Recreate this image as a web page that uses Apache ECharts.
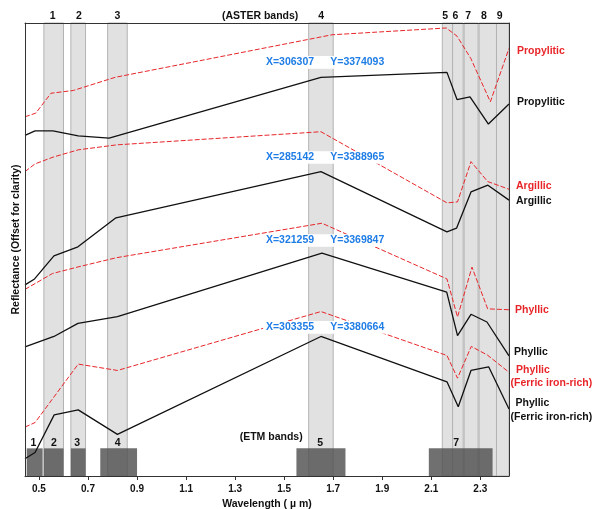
<!DOCTYPE html>
<html>
<head>
<meta charset="utf-8">
<script src="https://cdn.jsdelivr.net/npm/echarts@6/dist/echarts.min.js"></script>
<style>
html,body{margin:0;padding:0;background:#fff;}
#main{width:602px;height:509px;}
</style>
</head>
<body>
<div id="main"></div>
<script>
// ---- data ----
const xTicks = [0.5, 0.7, 0.9, 1.1, 1.3, 1.5, 1.7, 1.9, 2.1, 2.3];
const xMin = 0.443, xMax = 2.417;

const asterBands = [[0.52,0.60],[0.63,0.69],[0.78,0.86],[1.60,1.70],[2.145,2.187],[2.187,2.23],[2.234,2.291],[2.295,2.366],[2.366,2.43]];
const asterLabels = ['1','2','3','4','5','6','7','8','9'];
const asterLabelX = [0.556,0.663,0.820,1.651,2.157,2.198,2.250,2.315,2.379];

const etmBands = [[0.45,0.515],[0.52,0.60],[0.63,0.69],[0.75,0.90],[1.55,1.75],[2.09,2.35]];
const etmLabels = ['1','2','3','4','5','7'];
const etmLabelX = [0.477,0.561,0.656,0.821,1.647,2.202];
const etmTop = 6.1;

const redPropylitic   = [[0.443,79.3],[0.487,80.1],[0.549,84.5],[0.640,85.1],[0.810,88.0],[1.695,97.4],[2.161,98.9],[2.205,97.1],[2.261,92.2],[2.341,82.6],[2.417,94.4]];
const blackPropylitic = [[0.443,75.2],[0.484,76.2],[0.557,76.2],[0.660,75.1],[0.786,74.6],[1.650,88.0],[2.164,89.1],[2.205,83.1],[2.258,83.7],[2.333,77.7],[2.417,82.1]];
const redArgillic     = [[0.443,67.2],[0.484,68.9],[0.558,70.4],[0.660,72.0],[0.817,73.1],[1.650,76.0],[2.164,60.3],[2.207,60.5],[2.262,69.4],[2.330,65.0],[2.417,63.3]];
const blackArgillic   = [[0.443,42.2],[0.482,43.5],[0.561,48.6],[0.659,50.6],[0.814,57.0],[1.650,67.2],[2.164,53.9],[2.203,54.7],[2.262,62.7],[2.331,64.2],[2.417,60.9]];
const redPhyllic      = [[0.443,41.2],[0.555,44.7],[0.663,46.2],[0.817,48.2],[1.654,55.8],[2.164,43.5],[2.207,35.1],[2.266,46.1],[2.330,36.9],[2.417,36.7]];
const blackPhyllic    = [[0.443,28.5],[0.561,30.8],[0.659,33.7],[0.820,35.2],[1.654,49.2],[2.163,40.6],[2.207,31.0],[2.262,35.7],[2.327,34.0],[2.417,26.5]];
const redFerric       = [[0.443,10.8],[0.484,11.8],[0.660,24.7],[0.820,23.3],[1.650,36.3],[2.164,26.6],[2.207,21.6],[2.263,28.6],[2.329,26.7],[2.417,22.9]];
const blackFerric     = [[0.443,3.8],[0.484,5.2],[0.562,13.5],[0.660,14.6],[0.820,9.2],[1.650,30.8],[2.164,20.8],[2.210,15.3],[2.262,23.3],[2.334,24.1],[2.417,14.8]];

const readoutX = ['X=306307','X=285142','X=321259','X=303355'];
const readoutY = ['Y=3374093','Y=3388965','Y=3369847','Y=3380664'];
const readoutLevels = [91.3, 70.3, 52.0, 32.8];

const rightLabels = [
  {t:'Propylitic', c:'red', x:517, y:50.7},
  {t:'Propylitic', c:'black', x:517, y:102.3},
  {t:'Argillic', c:'red', x:516, y:185.7},
  {t:'Argillic', c:'black', x:516, y:201},
  {t:'Phyllic', c:'red', x:515, y:310},
  {t:'Phyllic', c:'black', x:514, y:352.3},
  {t:'Phyllic', c:'red', x:516, y:370},
  {t:'(Ferric iron-rich)', c:'red', x:510.5, y:382.7},
  {t:'Phyllic', c:'black', x:515.5, y:403.3},
  {t:'(Ferric iron-rich)', c:'black', x:510.5, y:417.3}
];

// ---- styling ----
const RED = '#e8262a', BLACK = '#111111', BLUE = '#1f7de6';
const FONT = '"Liberation Sans", Arial, sans-serif';
const F = 'bold 10.5px ' + FONT;

const chart = echarts.init(document.getElementById('main'));

function redSeries(name, data){
  return {name, type:'line', data, symbol:'none', z:4, animation:false,
    lineStyle:{color:RED, width:1, type:[5,2]}};
}
function blackSeries(name, data){
  return {name, type:'line', data, symbol:'none', z:5, animation:false,
    lineStyle:{color:BLACK, width:1.3}};
}

const option = {
  animation:false,
  backgroundColor:'#fff',
  grid:{left:25, right:93, top:23, bottom:33, containLabel:false, outerBoundsMode:'none'},
  xAxis:[{
    type:'value', min:xMin, max:xMax, position:'bottom', z:10,
    axisLine:{show:true, lineStyle:{color:'#333', width:1}},
    axisTick:{show:true, customValues:xTicks, length:4, lineStyle:{color:'#333'}},
    axisLabel:{customValues:xTicks, formatter:v=>v.toFixed(1), fontWeight:'bold', fontSize:10, color:'#111', fontFamily:FONT, margin:8},
    splitLine:{show:false},
    name:'Wavelength ( µ m)', nameLocation:'middle', nameGap:21,
    nameTextStyle:{fontWeight:'bold', fontSize:10.5, color:'#111', fontFamily:FONT}
  },{
    type:'value', min:xMin, max:xMax, position:'top', z:10,
    axisLine:{show:true, onZero:false, lineStyle:{color:'#333', width:1}},
    axisTick:{show:false}, axisLabel:{show:false}, splitLine:{show:false}
  }],
  yAxis:[{
    type:'value', min:0, max:100, position:'left', z:10,
    axisLine:{show:true, onZero:false, lineStyle:{color:'#333', width:1}},
    axisTick:{show:false}, axisLabel:{show:false}, splitLine:{show:false},
    name:'Reflectance (Offset for clarity)', nameLocation:'middle', nameGap:3,
    nameTextStyle:{fontWeight:'bold', fontSize:10.5, color:'#111', fontFamily:FONT, padding:[0,0,0,20]}
  },{
    type:'value', min:0, max:100, position:'right', z:10,
    axisLine:{show:true, onZero:false, lineStyle:{color:'#333', width:1}},
    axisTick:{show:false}, axisLabel:{show:false}, splitLine:{show:false}
  }],
  series:[
    {type:'line', name:'ASTER bands', data:[], z:1, silent:true,
      markArea:{silent:true, z:1,
        itemStyle:{color:'#e1e1e1', borderColor:'#b3b3b3', borderWidth:1},
        data: asterBands.map(b=>[{xAxis:b[0]},{xAxis:Math.min(b[1], xMax)}])}},
    {type:'line', name:'ETM bands', data:[], z:2, silent:true,
      markArea:{silent:true, z:2,
        itemStyle:{color:'rgba(80,80,80,0.82)'},
        data: etmBands.map(b=>[{xAxis:b[0], yAxis:0},{xAxis:b[1], yAxis:etmTop}])}},
    redSeries('Propylitic (ASTER)', redPropylitic),
    blackSeries('Propylitic (ETM)', blackPropylitic),
    redSeries('Argillic (ASTER)', redArgillic),
    blackSeries('Argillic (ETM)', blackArgillic),
    redSeries('Phyllic (ASTER)', redPhyllic),
    blackSeries('Phyllic (ETM)', blackPhyllic),
    redSeries('Phyllic Ferric (ASTER)', redFerric),
    blackSeries('Phyllic Ferric (ETM)', blackFerric)
  ]
};
chart.setOption(option);

// ---- texts positioned through the chart's own scales ----
const toPx = (x, y) => chart.convertToPixel({seriesIndex:2}, [x, y]);
const g = [];
asterLabels.forEach((t, i) => {
  const p = toPx(asterLabelX[i], 100);
  g.push({type:'text', z:100, style:{text:t, x:p[0], y:p[1]-6.5, align:'center', verticalAlign:'middle', font:F, fill:'#111'}});
});
{
  const p = toPx(1.402, 100);
  g.push({type:'text', z:100, style:{text:'(ASTER bands)', x:p[0], y:p[1]-6.5, align:'center', verticalAlign:'middle', font:F, fill:'#111'}});
}
etmLabels.forEach((t, i) => {
  const p = toPx(etmLabelX[i], 7.35);
  g.push({type:'text', z:100, style:{text:t, x:p[0], y:p[1], align:'center', verticalAlign:'middle', font:F, fill:'#111'}});
});
{
  const p = toPx(1.447, 8.55);
  g.push({type:'text', z:100, style:{text:'(ETM bands)', x:p[0], y:p[1], align:'center', verticalAlign:'middle', font:F, fill:'#111'}});
}
readoutLevels.forEach((lv, i) => {
  const a = toPx(1.414, lv), b = toPx(1.916, lv);
  const xr = toPx(1.622, lv), yl = toPx(1.688, lv);
  g.push({type:'rect', z:99, shape:{x:a[0], y:a[1]-6.3, width:b[0]-a[0], height:12.6}, style:{fill:'#fff'}});
  g.push({type:'text', z:100, style:{text:readoutX[i], x:xr[0], y:xr[1], align:'right', verticalAlign:'middle', font:F, fill:BLUE}});
  g.push({type:'text', z:100, style:{text:readoutY[i], x:yl[0], y:yl[1], align:'left', verticalAlign:'middle', font:F, fill:BLUE}});
});
rightLabels.forEach(l => {
  g.push({type:'text', z:100, style:{text:l.t, x:l.x, y:l.y, align:'left', verticalAlign:'middle', font:F, fill:l.c==='red'?RED:BLACK}});
});
chart.setOption({graphic:g});
</script>
</body>
</html>
